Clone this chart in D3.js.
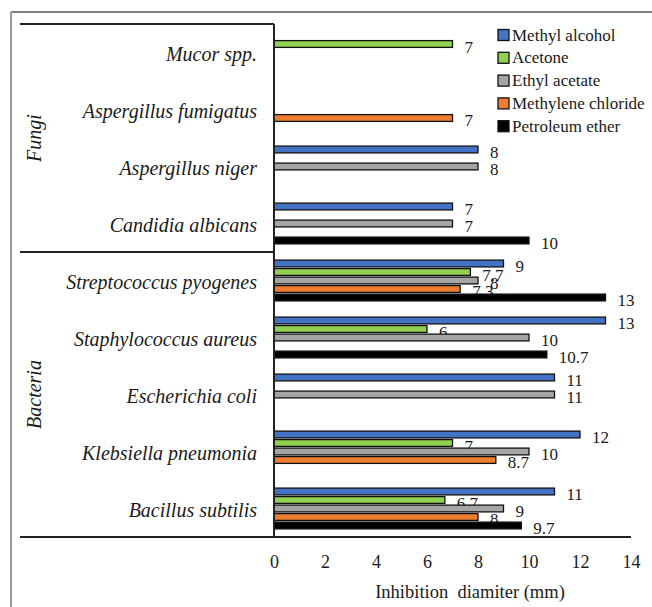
<!DOCTYPE html>
<html>
<head>
<meta charset="utf-8">
<script src="https://cdn.jsdelivr.net/npm/d3@7"></script>
</head>
<body style="margin:0;padding:0;background:#fff">
<svg id="chart" width="652" height="607" style="display:block;font-family:'Liberation Serif','DejaVu Serif',serif"></svg>
<script>
// ---- data ----
const categories = [
  "Mucor spp.",
  "Aspergillus fumigatus",
  "Aspergillus niger",
  "Candidia albicans",
  "Streptococcus pyogenes",
  "Staphylococcus aureus",
  "Escherichia coli",
  "Klebsiella pneumonia",
  "Bacillus subtilis"
];
const groups = ["Fungi", "Bacteria"];
const groupOf = ["Fungi","Fungi","Fungi","Fungi","Bacteria","Bacteria","Bacteria","Bacteria","Bacteria"];
const seriesNames = ["Methyl alcohol", "Acetone", "Ethyl acetate", "Methylene chloride", "Petroleum ether"];
const methylAlcohol     = [null, null, 8, 7, 9, 13, 11, 12, 11];
const acetone           = [7, null, null, null, 7.7, 6, null, 7, 6.7];
const ethylAcetate      = [null, null, 8, 7, 8, 10, 11, 10, 9];
const methyleneChloride = [null, 7, null, null, 7.3, null, null, 8.7, 8];
const petroleumEther    = [null, null, null, 10, 13, 10.7, null, null, 9.7];
const xTicks = [0, 2, 4, 6, 8, 10, 12, 14];
const xTitle = "Inhibition\u00A0\u00A0diamiter (mm)";

const seriesValues = [methylAlcohol, acetone, ethylAcetate, methyleneChloride, petroleumEther];
const colors = ["#4472C4", "#92D050", "#A5A5A5", "#ED7D31", "#000000"];

// ---- layout ----
const FONT = "'Liberation Serif', 'DejaVu Serif', serif";
const TXT = "#1a1a1a";
const svg = d3.select("#chart");
const plotLeft = 274, plotRight = 631, plotTop = 24, plotBottom = 537, leftEdge = 20;

const x = d3.scaleLinear().domain([0, 14]).range([plotLeft, plotRight]);
const y0 = d3.scaleBand().domain(categories).range([plotTop, plotBottom]).padding(0);
const y1 = d3.scaleBand().domain(seriesNames).range([0, y0.bandwidth()])
  .paddingInner(0.2).paddingOuter(0.953);
const color = d3.scaleOrdinal().domain(seriesNames).range(colors);

function styleText(sel, size, italic) {
  sel.style("font-family", FONT).style("font-size", size + "px")
     .style("font-style", italic ? "italic" : "normal").style("fill", TXT);
  return sel;
}

// outer frame
svg.append("line").attr("x1", 11).attr("x2", 652).attr("y1", 12).attr("y2", 12)
  .attr("stroke", "#555").attr("stroke-width", 1.5);
svg.append("line").attr("x1", 11).attr("x2", 11).attr("y1", 12).attr("y2", 607)
  .attr("stroke", "#999").attr("stroke-width", 2);

// flatten data
const cells = [];
categories.forEach((c, i) => {
  seriesNames.forEach((s, j) => {
    const v = seriesValues[j][i];
    if (v !== null && v !== undefined) cells.push({cat: c, series: s, value: v});
  });
});

// value labels (drawn beneath bars)
svg.append("g").selectAll("text").data(cells).join("text")
  .attr("x", d => x(d.value) + 12)
  .attr("y", d => y0(d.cat) + y1(d.series) + y1.bandwidth() / 2 + 3)
  .attr("dominant-baseline", "central")
  .text(d => d.value)
  .call(styleText, 17, false);

// bars
svg.append("g").selectAll("rect").data(cells).join("rect")
  .attr("x", x(0))
  .attr("y", d => y0(d.cat) + y1(d.series))
  .attr("width", d => x(d.value) - x(0))
  .attr("height", y1.bandwidth())
  .attr("fill", d => color(d.series))
  .attr("stroke", "#111")
  .attr("stroke-width", 1.3);

// structural lines
const lineColor = "#222";
svg.append("line").attr("x1", leftEdge).attr("x2", plotLeft).attr("y1", plotTop).attr("y2", plotTop)
  .attr("stroke", lineColor).attr("stroke-width", 2);
const sepY = y0(categories[groupOf.indexOf("Bacteria")]);
svg.append("line").attr("x1", leftEdge).attr("x2", plotLeft).attr("y1", sepY).attr("y2", sepY)
  .attr("stroke", lineColor).attr("stroke-width", 2);
svg.append("line").attr("x1", leftEdge).attr("x2", plotRight).attr("y1", plotBottom).attr("y2", plotBottom)
  .attr("stroke", lineColor).attr("stroke-width", 2);
svg.append("line").attr("x1", plotLeft).attr("x2", plotLeft).attr("y1", plotTop).attr("y2", plotBottom)
  .attr("stroke", lineColor).attr("stroke-width", 2);

// category labels
svg.append("g").selectAll("text").data(categories).join("text")
  .attr("x", 257)
  .attr("y", d => y0(d) + y0.bandwidth() / 2 + 1)
  .attr("text-anchor", "end")
  .attr("dominant-baseline", "central")
  .text(d => d)
  .call(styleText, 20, true);

// group labels
groups.forEach(g => {
  const idx = categories.filter((c, i) => groupOf[i] === g);
  const top = y0(idx[0]);
  const bottom = y0(idx[idx.length - 1]) + y0.bandwidth();
  const cy = (top + bottom) / 2;
  svg.append("text")
    .attr("transform", `translate(41,${cy}) rotate(-90)`)
    .attr("text-anchor", "middle")
    .text(g)
    .call(styleText, 20, true);
});

// x axis tick labels
const xAxis = d3.axisBottom(x).tickValues(xTicks).tickSize(0).tickPadding(0);
const ax = svg.append("g").attr("transform", `translate(0,${plotBottom})`).call(xAxis);
ax.select(".domain").remove();
ax.attr("font-family", null).attr("font-size", null);
ax.selectAll("text")
  .attr("y", 31)
  .attr("dy", null)
  .call(styleText, 18, false);

// x title
svg.append("text")
  .attr("x", 470)
  .attr("y", 598)
  .attr("text-anchor", "middle")
  .text(xTitle)
  .call(styleText, 18.5, false);

// legend
const legend = svg.append("g").attr("transform", "translate(498,35)");
const lg = legend.selectAll("g").data(seriesNames).join("g")
  .attr("transform", (d, i) => `translate(0,${i * 22.8})`);
lg.append("rect").attr("x", 0).attr("y", -5.5).attr("width", 11).attr("height", 11)
  .attr("fill", d => color(d)).attr("stroke", "#111").attr("stroke-width", 1.3);
lg.append("text").attr("x", 14).attr("y", 0).attr("dominant-baseline", "central")
  .text(d => d)
  .call(styleText, 17, false);
</script>
</body>
</html>
